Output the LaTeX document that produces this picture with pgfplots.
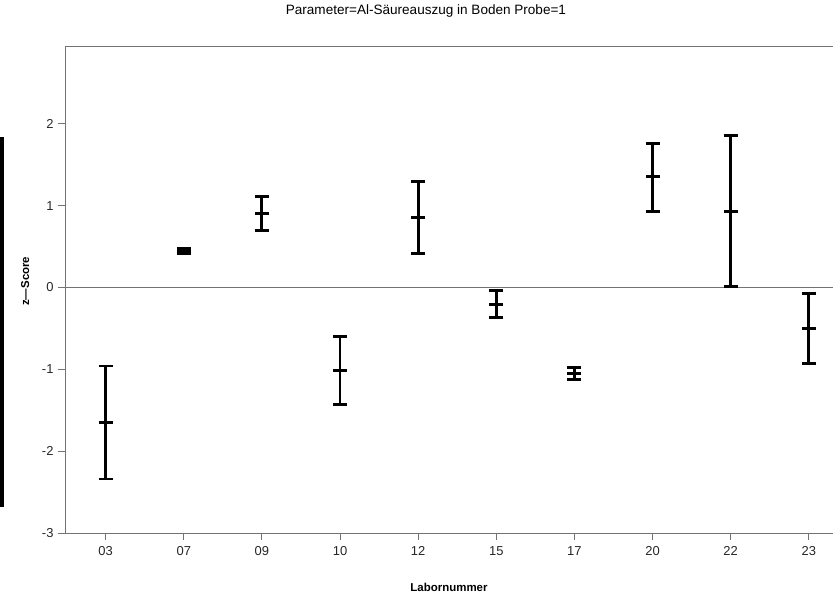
\documentclass[border=0pt]{standalone}
\usepackage{pgfplots}
\pgfplotsset{compat=1.18}
\usepackage{fontspec}
\setmainfont{Liberation Sans}
\usetikzlibrary{calc}
\definecolor{axgray}{gray}{0.45}
\begin{document}
\begin{tikzpicture}
\begin{axis}[
  name=ax,
  scale only axis,
  width=768bp, height=487bp,
  xmin=-0.52, xmax=9.31,
  ymin=-3, ymax=2.95,
  xtick={0,1,2,3,4,5,6,7,8,9},
  xticklabels={03,07,09,10,12,15,17,20,22,23},
  ytick={-3,-2,-1,0,1,2},
  axis line style={axgray, line width=0.8bp},
  tick style={axgray, line width=0.8bp},
  tick align=outside,
  major tick length=7bp,
  xtick pos=bottom, ytick pos=left,
  tick label style={font=\fontsize{13}{15}\selectfont, text=black!85},
  /pgf/number format/assume math mode=true,
  xticklabel style={yshift=-3bp},
  yticklabel style={xshift=-1bp},
  xlabel={\bfseries Labornummer},
  ylabel={\bfseries z---Score},
  label style={font=\fontsize{11.5}{14}\selectfont},
  xlabel style={at={(rel axis cs:0.5,-0.111)}, anchor=center},
  ylabel style={at={(rel axis cs:-0.052,0.517)}, anchor=center, rotate=0},
  clip=false,
]
\addplot[axgray, line width=0.6bp, forget plot] coordinates {(-0.52,0) (9.31,0)};
\addplot[
  only marks, black, line width=2.8bp,
  mark=-, mark size=7bp, mark options={line width=3bp, solid},
  every mark/.append style={line width=3bp},
  error bars/.cd, y dir=both, y explicit,
  error mark=|,
  error bar style={line width=2.8bp, black},
  error mark options={mark size=7bp, line width=2.8bp, black},
] table[x=x, y=y, y error plus=ep, y error minus=em] {
x y ep em
0 -1.65 0.69 0.69
1 0.445 0.035 0.035
2 0.90 0.21 0.20
3 -1.02 0.42 0.41
4 0.85 0.44 0.44
5 -0.21 0.17 0.16
6 -1.05 0.07 0.07
7 1.35 0.41 0.42
8 0.93 0.93 0.92
9 -0.50 0.43 0.43
};
\fill[black] (rel axis cs:-0.0846,0.053) rectangle (rel axis cs:-0.0794,0.813);
\node[font=\fontsize{13.6}{15}\selectfont, anchor=center] at (rel axis cs:0.470,1.0718) {Parameter=Al-Säureauszug in Boden Probe=1};
\end{axis}
\pgfresetboundingbox
\useasboundingbox ($(ax.south west)+(-65bp,-64bp)$) rectangle ($(ax.north east)+(0bp,46bp)$);
\end{tikzpicture}
\end{document}
